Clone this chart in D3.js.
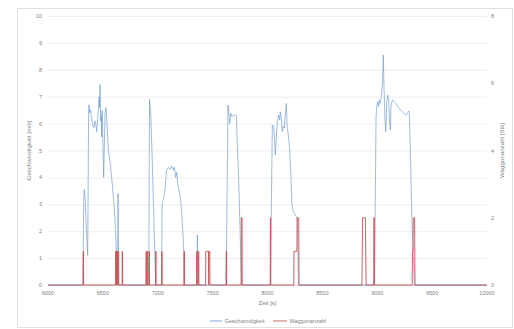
<!DOCTYPE html>
<html>
<head>
<meta charset="utf-8">
<script src="https://cdn.jsdelivr.net/npm/d3@7"></script>
<style>
  body { margin: 0; background: #fff; }
  svg { display: block; font-family: "Liberation Sans", "DejaVu Sans", sans-serif; }
</style>
</head>
<body>
<div id="chart"></div>
<script>
// Geschwindigkeit [m/s] over time
const speedTime = [
  6000, 6318, 6325, 6331, 6338, 6350, 6362, 6370, 6374, 6380, 6389, 6396, 6404, 6412, 6419, 6428,
  6435, 6444, 6453, 6460, 6465, 6470, 6474, 6480, 6485, 6489, 6494, 6507, 6520, 6528, 6535, 6549,
  6565, 6580, 6595, 6610, 6620, 6628, 6632, 6634, 6638, 6644,
  6918, 6925, 6930, 6937, 6950, 6965, 6981,
  7034, 7040, 7051, 7057, 7066, 7081, 7096, 7112, 7127, 7142, 7151, 7164, 7173, 7182, 7194, 7209,
  7224, 7237, 7240,
  7358, 7361, 7366,
  7623, 7640, 7647, 7656, 7665, 7677, 7692, 7716, 7722, 7738, 7747, 7756, 7763,
  8027, 8044, 8056, 8066, 8071, 8080, 8089, 8102, 8111, 8117, 8126, 8135, 8144, 8153, 8162, 8171,
  8180, 8190, 8199, 8212, 8223, 8235, 8253, 8271, 8282,
  8975, 8989, 8995, 9004, 9010, 9019, 9025, 9034, 9043, 9050, 9055, 9062, 9071, 9077, 9086, 9095,
  9105, 9110, 9119, 9125, 9137, 9155, 9171, 9186, 9201, 9214, 9228, 9244, 9259, 9274, 9287, 9292,
  9299, 9308, 9317, 9326, 9332, 9338, 10000
];
const speedValue = [
  0, 0, 3.1, 3.55, 3.25, 2.0, 1.1, 6.5, 6.7, 6.4, 6.5, 6.2, 6.05, 5.9, 5.85, 6.1,
  6.0, 5.7, 6.2, 6.6, 7.0, 6.6, 7.45, 6.1, 6.3, 5.5, 6.5, 4.0, 6.4, 6.6, 6.2, 5.0,
  4.6, 4.0, 3.3, 2.5, 1.5, 0.5, 0, 0, 3.4, 0,
  0, 6.9, 6.6, 6.3, 4.6, 2.4, 0,
  0, 3.0, 3.2, 3.3, 3.5, 4.27, 4.38, 4.3, 4.42, 4.27, 4.38, 4.0, 4.2, 3.78, 3.5, 3.16,
  2.3, 1.3, 0,
  0, 1.86, 0,
  0, 6.69, 6.44, 6.0, 6.38, 6.26, 6.32, 6.3, 5.58, 3.84, 2.5, 1.1, 0,
  0, 5.95, 5.9, 5.33, 4.83, 5.45, 6.07, 6.32, 6.13, 6.44, 6.2, 5.7, 5.9, 5.83, 6.32, 6.75,
  5.83, 5.58, 5.2, 4.2, 2.97, 2.72, 2.6, 2.48, 0,
  0, 6.2, 6.63, 6.81, 6.63, 6.88, 6.75, 6.94, 7.25, 7.74, 8.55, 7.25, 6.13, 5.7, 6.75, 7.06,
  6.88, 6.26, 5.76, 6.63, 6.88, 6.81, 6.75, 6.63, 6.57, 6.5, 6.44, 6.38, 6.32, 6.4, 6.47, 6.38,
  5.39, 3.78, 2.17, 1.3, 0.8, 0, 0
];

// Waggonanzahl [Stk] over time
const wagTime = [
  6000, 6320, 6321, 6324, 6325,
  6614, 6615, 6620, 6621, 6624, 6625, 6633, 6634, 6637, 6638, 6644, 6645,
  6675, 6676, 6679, 6680,
  6892, 6893, 6897, 6898, 6903, 6904, 6908, 6909, 6920, 6921, 6924, 6925,
  6980, 6981, 6984, 6985,
  7035, 7036, 7039, 7040,
  7239, 7240, 7243, 7244,
  7354, 7355, 7359, 7360, 7369, 7370, 7374, 7375,
  7436, 7438, 7462, 7464, 7466, 7474, 7476,
  7623, 7624, 7627, 7628,
  7760, 7761, 7768, 7770,
  8025, 8026, 8029, 8030,
  8240, 8241, 8268, 8270, 8285, 8287,
  8860, 8866, 8892, 8898,
  8968, 8969, 8973, 8974,
  9318, 9321, 9326, 9328, 9340, 9344,
  10000
];
const wagCount = [
  0, 0, 1, 1, 0,
  0, 1, 1, 0, 0, 1, 1, 0, 0, 1, 1, 0,
  0, 1, 1, 0,
  0, 1, 1, 0, 0, 1, 1, 0, 0, 1, 1, 0,
  0, 1, 1, 0,
  0, 1, 1, 0,
  0, 1, 1, 0,
  0, 1, 1, 0, 0, 1, 1, 0,
  0, 1, 1, 0, 1, 1, 0,
  0, 1, 1, 0,
  0, 2, 2, 0,
  0, 2, 2, 0,
  0, 1, 1, 2, 2, 0,
  0, 2, 2, 0,
  0, 2, 2, 0,
  0, 1, 1, 2, 2, 0,
  0
];

const xTicks = [6000, 6500, 7000, 7500, 8000, 8500, 9000, 9500, 10000];
const yLeftTicks = [0, 1, 2, 3, 4, 5, 6, 7, 8, 9, 10];
const yRightTicks = [0, 2, 4, 6, 8];

const W = 514, H = 329;
const plot = { left: 48, right: 487, top: 16, bottom: 285 };

const svg = d3.select("#chart").append("svg")
  .attr("width", W)
  .attr("height", H);

// chart area border
svg.append("rect")
  .attr("x", 17.5).attr("y", 8.5)
  .attr("width", 495).attr("height", 319)
  .attr("fill", "#fff")
  .attr("stroke", "#d9d9d9")
  .attr("stroke-width", 0.8);

const x = d3.scaleLinear().domain([6000, 10000]).range([plot.left, plot.right]);
const yL = d3.scaleLinear().domain([0, 10]).range([plot.bottom, plot.top]);
const yR = d3.scaleLinear().domain([0, 8]).range([plot.bottom, plot.top]);

// gridlines
svg.append("g")
  .selectAll("line")
  .data(yLeftTicks)
  .join("line")
  .attr("x1", plot.left).attr("x2", plot.right)
  .attr("y1", d => yL(d) + 0.5).attr("y2", d => yL(d) + 0.5)
  .attr("stroke", d => d === 0 ? "#bfbfbf" : "#e6e6e6")
  .attr("stroke-width", 0.7);

const tickColor = "#7f7f7f";

// left ticks
svg.append("g")
  .selectAll("text")
  .data(yLeftTicks)
  .join("text")
  .attr("x", 42)
  .attr("y", d => yL(d) + 2)
  .attr("text-anchor", "end")
  .attr("font-size", 5.5)
  .attr("fill", tickColor)
  .text(d => d);

// right ticks
svg.append("g")
  .selectAll("text")
  .data(yRightTicks)
  .join("text")
  .attr("x", 491)
  .attr("y", d => yR(d) + 2)
  .attr("text-anchor", "start")
  .attr("font-size", 5.5)
  .attr("fill", tickColor)
  .text(d => d);

// x ticks
svg.append("g")
  .selectAll("text")
  .data(xTicks)
  .join("text")
  .attr("x", d => x(d))
  .attr("y", 295)
  .attr("text-anchor", "middle")
  .attr("font-size", 5.5)
  .attr("fill", tickColor)
  .text(d => d);

// axis titles
svg.append("text")
  .attr("transform", `translate(31,${(plot.top + plot.bottom) / 2}) rotate(-90)`)
  .attr("text-anchor", "middle")
  .attr("font-size", 6.2)
  .attr("fill", tickColor)
  .text("Geschwindigkeit [m/s]");

svg.append("text")
  .attr("transform", `translate(504,${(plot.top + plot.bottom) / 2}) rotate(-90)`)
  .attr("text-anchor", "middle")
  .attr("font-size", 6.2)
  .attr("fill", tickColor)
  .text("Waggonanzahl [Stk]");

svg.append("text")
  .attr("x", (plot.left + plot.right) / 2)
  .attr("y", 305)
  .attr("text-anchor", "middle")
  .attr("font-size", 6)
  .attr("fill", tickColor)
  .text("Zeit [s]");

// series
const speedLine = d3.line()
  .x(i => x(speedTime[i]))
  .y(i => yL(speedValue[i]));

const wagLine = d3.line()
  .x(i => x(wagTime[i]))
  .y(i => yR(wagCount[i]));

svg.append("path")
  .attr("d", speedLine(d3.range(speedTime.length)))
  .attr("fill", "none")
  .attr("stroke", "#6a98cf")
  .attr("stroke-width", 0.65)
  .attr("stroke-linejoin", "round");

svg.append("path")
  .attr("d", wagLine(d3.range(wagTime.length)))
  .attr("fill", "none")
  .attr("stroke", "#c55452")
  .attr("stroke-width", 0.9)
  .attr("stroke-linejoin", "round");

// legend
const legend = [
  { name: "Geschwindigkeit", color: "#6a98cf", x: 210, w: 12 },
  { name: "Waggonanzahl", color: "#c55452", x: 273, w: 14 }
];
const lg = svg.append("g")
  .selectAll("g")
  .data(legend)
  .join("g")
  .attr("transform", d => `translate(${d.x},321)`);
lg.append("line")
  .attr("x1", 0).attr("x2", d => d.w)
  .attr("stroke", d => d.color)
  .attr("stroke-width", 0.9);
lg.append("text")
  .attr("x", d => d.w + 2.5)
  .attr("y", 2)
  .attr("font-size", 5.5)
  .attr("fill", tickColor)
  .text(d => d.name);
</script>
</body>
</html>
